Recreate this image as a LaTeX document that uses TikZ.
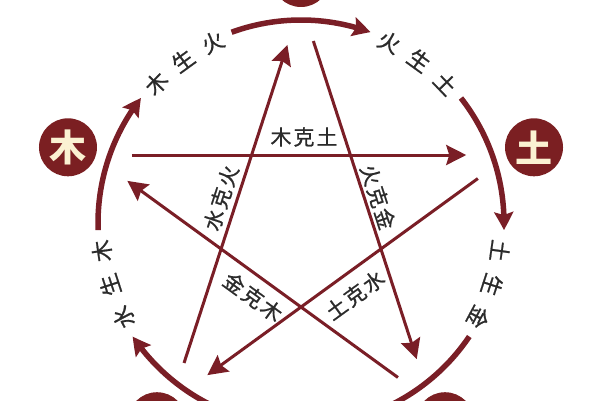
\documentclass[tikz,border=0pt]{standalone}
\usepackage{fontspec}
\newfontfamily\cjk{Noto Sans CJK SC}
\newfontfamily\cjkm{Noto Sans CJK SC}[FakeBold=0.8]
\usetikzlibrary{arrows.meta,bending,calc}
\definecolor{wxred}{HTML}{7A1E26}
\definecolor{wxfill}{HTML}{7B1F22}
\definecolor{wxcream}{HTML}{FBF1D2}
\definecolor{wxtext}{HTML}{2B2B2B}
\tikzset{
  elem/.style={circle, fill=wxfill, minimum size=58pt, inner sep=0pt, text=wxcream,
    font=\cjk\bfseries\fontsize{37}{37}\selectfont},
  ke/.style={draw=wxred, line width=3pt, shorten <=40pt, shorten >=44pt,
    -{Stealth[length=20pt,width=20pt,inset=3pt]}},
  sheng/.style={draw=wxred, line width=5.5pt,
    -{Stealth[length=18pt,width=19pt,inset=3pt,bend]}},
  shenglab/.style={text=wxtext, inner sep=0pt, font=\cjkm\fontsize{22}{22}\selectfont},
  kelab/.style={text=wxtext, inner sep=0pt, font=\cjkm\fontsize{21}{21}\selectfont}
}
\newcommand{\wxsp}{\hspace{2pt}}
\begin{document}
\begin{tikzpicture}[x=1pt,y=1pt]
\useasboundingbox (0,0) rectangle (600,400);
\clip (0,0) rectangle (600,400);
\fill[white] (0,0) rectangle (600,400);
\coordinate (C) at (301,177);
% element circles
\node[elem] (huo) at ($(C)+(90:245)$) {};
\node[elem] (mu) at ($(C)+(162:245)$) {木};
\node[elem] (tu) at ($(C)+(18:245)$) {土};
\node[elem] (jin) at ($(C)+(-54:245)$) {};
\node[elem] (shui) at ($(C)+(234:245)$) {};
% star points
\coordinate (pH) at ($(C)+(90:220)$);
\coordinate (pT) at ($(C)+(18:220)$);
\coordinate (pJ) at ($(C)+(-54:220)$);
\coordinate (pS) at ($(C)+(234:220)$);
\coordinate (pM) at ($(C)+(162:220)$);
% ke lines
\draw[ke] (pM) -- (pT);
\draw[ke] (pT) -- (pS);
\draw[ke] (pS) -- (pH);
\draw[ke] (pH) -- (pJ);
\draw[ke] (pJ) -- (pM);
% ke labels
\node[kelab] (lMT) at (304,263) {木\wxsp 克\wxsp 土};
\node[kelab, rotate=-72] (lHJ) at (378,203) {火\wxsp 克\wxsp 金};
\node[kelab, rotate=72] (lSH) at (221,202) {水\wxsp 克\wxsp 火};
\node[kelab, rotate=-36] (lJM) at (253,103) {金\wxsp 克\wxsp 木};
\node[kelab, rotate=36] (lTS) at (355,105) {土\wxsp 克\wxsp 水};
% sheng arcs
\foreach \s/\e [count=\i] in {182/142, 110/70, 38/-2, -34/-74, 254/214}{
  \coordinate (a\i) at ($(C)+(\s:203)$);
  \draw[sheng] (a\i) arc[start angle=\s, end angle=\e, radius=203];
}
% sheng labels
\foreach \c/\a [count=\i] in {木/136,生/126,火/116, 火/64,生/54,土/44, 土/-8,生/-18,金/-28, 水/208,生/198,木/188}{
  \node[shenglab, rotate=\a-90] (s\i) at ($(C)+(\a:201)$) {\c};
}
\end{tikzpicture}
\end{document}
